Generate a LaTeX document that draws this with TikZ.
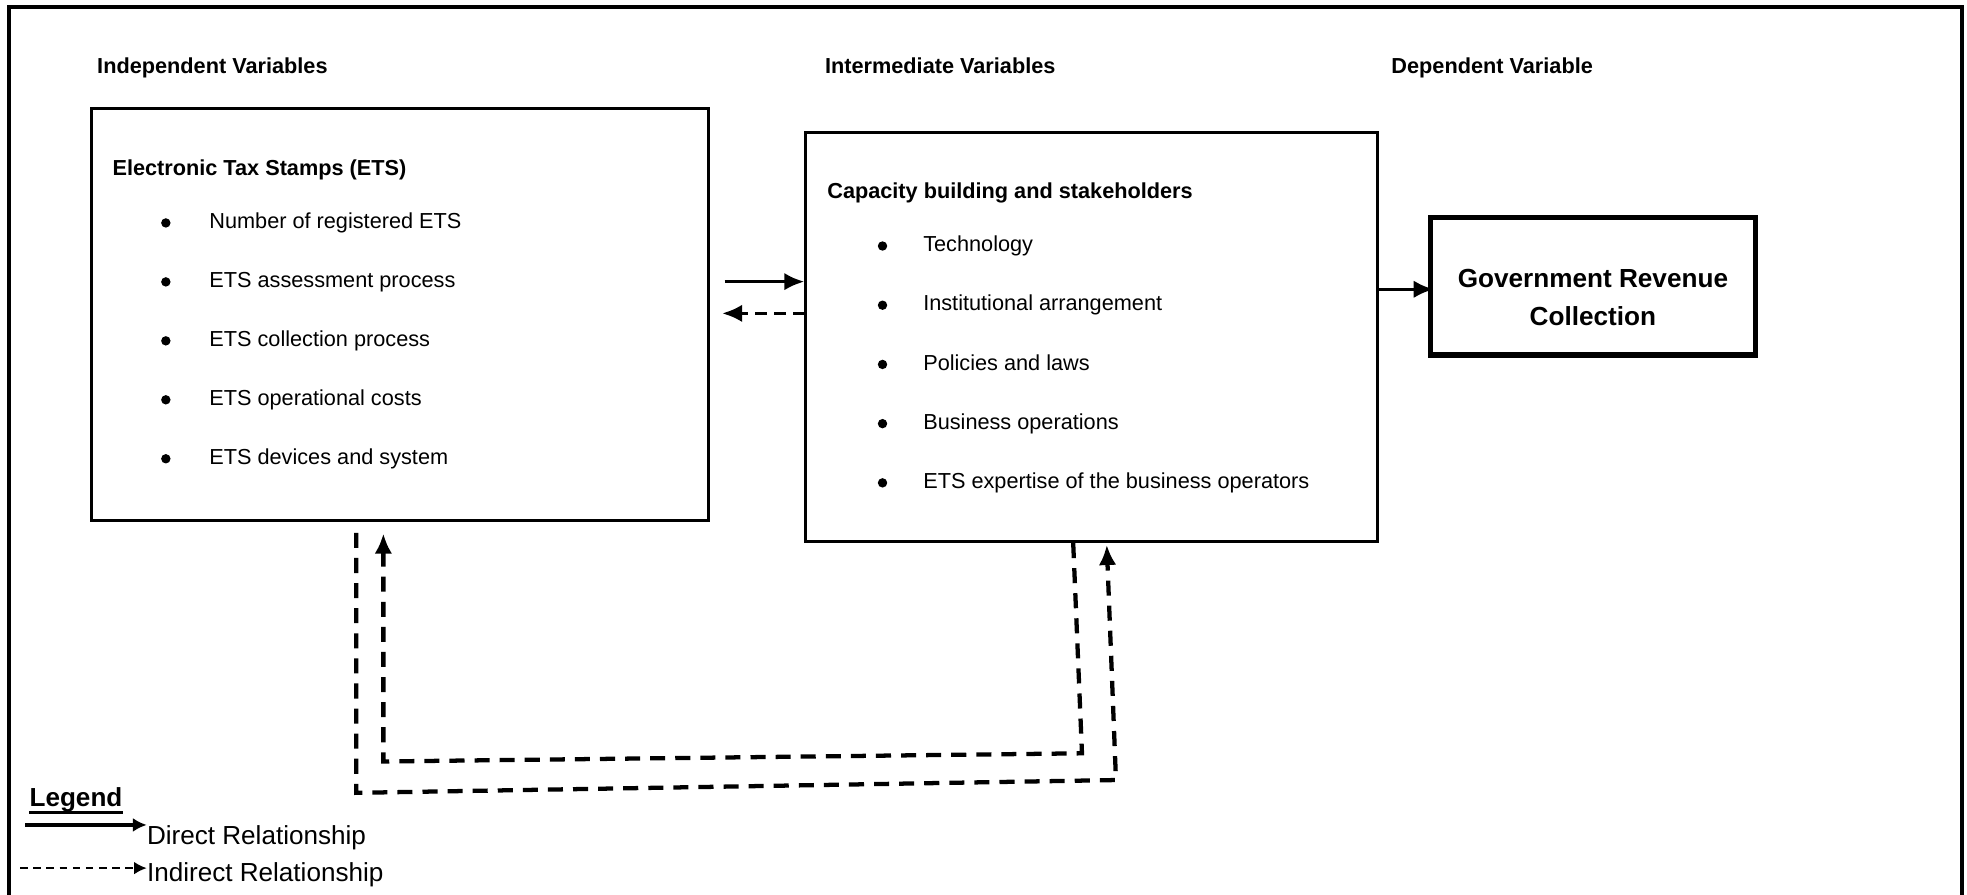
\documentclass[tikz,border=0pt]{standalone}
\usepackage{fontspec}
\setmainfont{Liberation Sans}
\usetikzlibrary{arrows.meta}
\tikzset{arrow/.style={-{Latex[length=16pt,width=14pt]}, line width=2.8pt}}
\tikzset{dashed-arrow/.style={arrow, line width=3.4pt, dash pattern=on 12pt off 8pt}}
\tikzset{key-arrow/.style={-{Latex[length=11pt,width=11pt]}, line width=2.6pt}}
\tikzset{key-dashed/.style={-{Latex[length=10pt,width=10pt]}, line width=1.7pt, dash pattern=on 6pt off 4.5pt}}
\tikzset{varbox/.style={draw, line width=2.2pt, inner sep=0pt}}
\tikzset{heading/.style={anchor=base west, inner sep=0pt, font=\fontsize{17.3}{20}\selectfont\bfseries}}
\tikzset{item/.style={anchor=base west, inner sep=0pt, font=\fontsize{17.3}{20}\selectfont}}
\tikzset{dot/.style={circle, fill, inner sep=0pt, minimum size=7.5pt}}
\tikzset{keytext/.style={anchor=base west, inner sep=0pt, font=\fontsize{20.8}{24}\selectfont}}

\begin{document}
\begin{tikzpicture}[x=1pt, y=-1pt]
      \useasboundingbox (0,0) rectangle (1568,713);
      \draw[line width=2.8pt] (7,720) -- (7,5.7) -- (1564,5.7) -- (1564,720);

      % column headings
      \node[heading] (indep) at (77.3, 58.4) {Independent Variables};
      \node[heading] (inter) at (657.5, 58.4) {Intermediate Variables};
      \node[heading] (dep) at (1109, 58.4) {Dependent Variable};

      % boxes
      \node[varbox, minimum width=491.3pt, minimum height=328.4pt] (box1) at (318.85, 250.5) {};
      \node[varbox, minimum width=455.9pt, minimum height=326.3pt] (box2) at (870.25, 268.65) {};
      \node[varbox, line width=4.2pt, minimum width=259.5pt, minimum height=109.6pt] (gov) at (1269.8, 228.2) {};
      \node[align=center, inner sep=0pt, font=\fontsize{20.85}{30}\selectfont\bfseries] (govtext) at (1269.8, 237.2) {Government Revenue\\Collection};

      \node[heading] (etstitle) at (89.5, 139.5) {Electronic Tax Stamps (ETS)};
      \foreach \txt [count=\i] in {Number of registered ETS, ETS assessment process,
          ETS collection process, ETS operational costs, ETS devices and system} {
        \node[dot] (etsdot\i) at (132.2, 130.7+47*\i) {};
        \node[item] (ets\i) at (166.7, 135.2+47*\i) {\txt};
      }

      \node[heading] (captitle) at (659.3, 158) {Capacity building and stakeholders};
      \foreach \txt [count=\i] in {Technology, Institutional arrangement, Policies and laws,
          Business operations, ETS expertise of the business operators} {
        \node[dot] (capdot\i) at (703.5, 148.9+47.2*\i) {};
        \node[item] (cap\i) at (735.8, 153.4+47.2*\i) {\txt};
      }

      % links between the boxes
      \coordinate (s1) at (577.6, 224.5);
      \coordinate (s2) at (575.6, 249.8);
      \draw[arrow] (s1) -- (s1 -| box2.west);
      \draw[dashed-arrow, line width=2.8pt, dash pattern=on 9pt off 6pt] (s2 -| box2.west) -- (s2);
      \draw[arrow] (box2.east |- 0,230.6) -- ([xshift=5pt]gov.west |- 0,230.6);

      % feedback loops underneath
      \draw[dashed-arrow, shorten <=9pt, shorten >=1.5pt] (box1.south -| 284,0) -- (284,632) -- (889.6,621.8) -- (box2.south -| 882.2,0);
      \draw[dashed-arrow, shorten >=9.5pt] (box2.south -| 855.5,0) -- (862.5,600.5) -- (305.6,607) -- (box1.south -| 305.6,0);

      % legend
      \node[keytext, font=\fontsize{20.8}{24}\selectfont\bfseries] (lgd) at (23.4, 643) {Legend};
      \draw[line width=2.2pt] ([yshift=-4.5pt]lgd.base west) -- ([yshift=-4.5pt]lgd.base east);
      \node[keytext] (direct) at (117, 672.8) {Direct Relationship};
      \node[keytext] (indirect) at (117, 702.8) {Indirect Relationship};
      \coordinate (d0) at (20, 657.6);
      \coordinate (i0) at (16, 692);
      \draw[key-arrow] (d0) -- (d0 -| direct.base west);
      \draw[key-dashed] (i0) -- (i0 -| indirect.base west);
\end{tikzpicture}
\end{document}
